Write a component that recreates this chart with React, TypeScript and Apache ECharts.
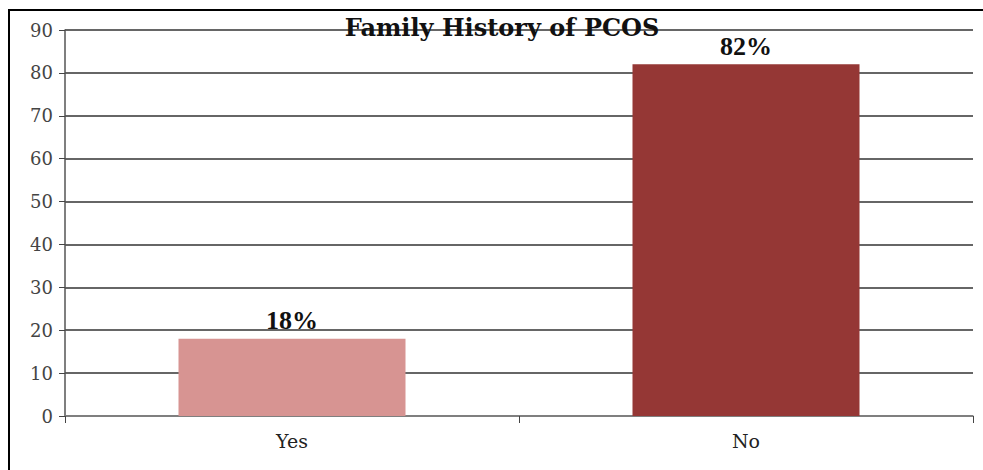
import React, { useEffect, useRef } from "react";
import * as echarts from "echarts";

const categories = ["Yes", "No"];
const values = [18, 82];
const labels = ["18%", "82%"];
const barColors = ["#D79492", "#953735"];
const yTicks = { min: 0, max: 90, interval: 10 };

export default function App() {
  const ref = useRef<HTMLDivElement>(null);
  useEffect(() => {
    if (!ref.current) return;
    const chart = echarts.init(ref.current, null, { renderer: "svg" });
    const serif = "'Liberation Serif', 'Times New Roman', serif";
    const wide = "'DejaVu Serif', serif";
    chart.setOption({
      animation: false,
      backgroundColor: "#ffffff",
      title: {
        text: "Family History of PCOS",
        left: 497,
        textAlign: "center",
        top: 10,
        textStyle: { fontFamily: wide, fontWeight: "bold", fontSize: 24, color: "#111" },
        z: 10,
      },
      grid: { left: 65, right: 10, top: 30, bottom: 54 },
      xAxis: {
        type: "category",
        data: categories,
        axisLine: { lineStyle: { color: "#888", width: 1.5 } },
        axisTick: { show: true, length: 7, lineStyle: { color: "#444" } },
        axisLabel: { fontFamily: wide, fontSize: 19, color: "#222", margin: 15 },
      },
      yAxis: {
        type: "value",
        min: yTicks.min,
        max: yTicks.max,
        interval: yTicks.interval,
        axisLine: { show: true, lineStyle: { color: "#555", width: 1.5 } },
        axisTick: { show: true, length: 6, lineStyle: { color: "#444" } },
        axisLabel: { fontFamily: wide, fontSize: 18, color: "#444", margin: 12 },
        splitLine: { lineStyle: { color: "#333", width: 1.5 } },
      },
      series: [
        {
          type: "bar",
          barWidth: "50%",
          data: values.map((v, i) => ({ value: v, itemStyle: { color: barColors[i] } })),
          label: {
            show: true,
            position: "top",
            distance: 5,
            formatter: (p: any) => labels[p.dataIndex],
            fontFamily: serif,
            fontWeight: "bold",
            fontSize: 26,
            color: "#111",
          },
        },
      ],
      graphic: [
        {
          type: "rect",
          shape: { x: 9, y: 10, width: 1000, height: 500 },
          style: { fill: "none", stroke: "#000", lineWidth: 2 },
          silent: true,
        },
      ],
    });
    return () => chart.dispose();
  }, []);
  return (
    <div
      ref={ref}
      style={{ position: "fixed", left: 0, top: 0, width: 983, height: 470 }}
    />
  );
}
